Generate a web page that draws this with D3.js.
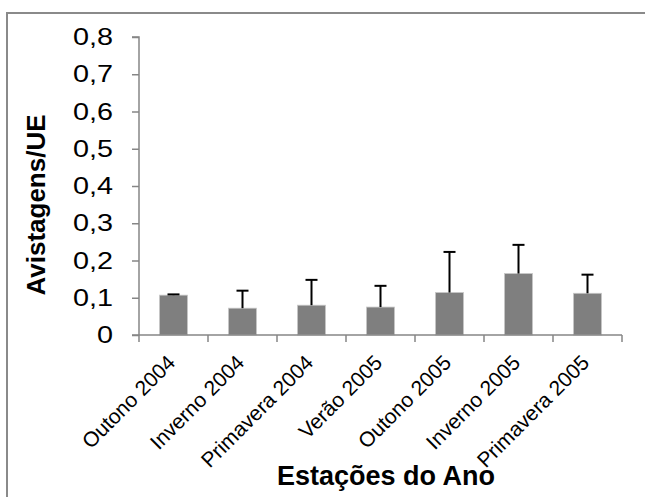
<!DOCTYPE html>
<html>
<head>
<meta charset="utf-8">
<script src="https://cdn.jsdelivr.net/npm/d3@7"></script>
<style>
  html, body { margin: 0; padding: 0; background: #fff; }
  svg { display: block; }
</style>
</head>
<body>
<svg id="chart" width="645" height="497"></svg>
<script>
// Sightings per effort unit by season
const categories = ["Outono 2004", "Inverno 2004", "Primavera 2004", "Verão 2005",
                    "Outono 2005", "Inverno 2005", "Primavera 2005"];
const means  = [0.107, 0.072, 0.080, 0.075, 0.114, 0.165, 0.112];
const errors = [0.002, 0.047, 0.068, 0.057, 0.109, 0.077, 0.050];
const yTicks = [0, 0.1, 0.2, 0.3, 0.4, 0.5, 0.6, 0.7, 0.8];
const yTickLabels = ["0", "0,1", "0,2", "0,3", "0,4", "0,5", "0,6", "0,7", "0,8"];

const svg = d3.select("#chart");
const font = "'Liberation Sans', Arial, sans-serif";
const axisColor = "#868686";

// outer chart frame (runs past the right and bottom edges)
svg.append("rect")
  .attr("x", 7).attr("y", 13)
  .attr("width", 700).attr("height", 600)
  .attr("fill", "none")
  .attr("stroke", "#8a8a8a")
  .attr("stroke-width", 2);

const x = d3.scaleBand()
  .domain(categories)
  .range([139, 622])
  .paddingInner(0.594)
  .paddingOuter(0.297);

const y = d3.scaleLinear()
  .domain([0, 0.8])
  .range([335, 37]);

// bars
svg.append("g").selectAll("rect")
  .data(categories)
  .join("rect")
  .attr("x", d => x(d))
  .attr("width", x.bandwidth())
  .attr("y", (d, i) => y(means[i]))
  .attr("height", (d, i) => y(0) - y(means[i]))
  .attr("fill", "#7f7f7f")
  .attr("stroke", "#c8c8c8")
  .attr("stroke-width", 0.8);

// upper error bars
const eb = svg.append("g").attr("stroke", "#000").attr("stroke-width", 2);
categories.forEach((c, i) => {
  const cx = x(c) + x.bandwidth() / 2;
  const top = y(means[i] + errors[i]);
  eb.append("line").attr("x1", cx).attr("x2", cx)
    .attr("y1", y(means[i])).attr("y2", top);
  eb.append("line").attr("x1", cx - 6).attr("x2", cx + 6)
    .attr("y1", top).attr("y2", top);
});

// y axis
const yAxis = d3.axisLeft(y)
  .tickValues(yTicks)
  .tickFormat((d, i) => yTickLabels[i])
  .tickSize(7)
  .tickPadding(14.7);
const gy = svg.append("g").attr("transform", "translate(139,0)").call(yAxis);
gy.select(".domain").attr("stroke", axisColor).attr("stroke-width", 1.5).attr("d", `M-7,${y(0.8)}H0V${y(0)}`);
gy.selectAll(".tick line").attr("stroke", axisColor).attr("stroke-width", 1.5);
gy.selectAll(".tick text")
  .attr("fill", "#000")
  .attr("transform", "scale(1.2,1)")
  .style("font-family", font)
  .style("font-size", "24px");

// x axis: ticks on category boundaries
const gx = svg.append("g").attr("transform", `translate(0,${y(0)})`);
gx.append("line")
  .attr("x1", 132).attr("x2", 622).attr("y1", 0).attr("y2", 0)
  .attr("stroke", axisColor).attr("stroke-width", 1.5);
const bounds = categories.map(c => x(c) - (x.step() - x.bandwidth()) / 2).concat([622]);
gx.selectAll("line.tk")
  .data(bounds)
  .join("line")
  .attr("class", "tk")
  .attr("x1", d => d).attr("x2", d => d)
  .attr("y1", 0).attr("y2", 7)
  .attr("stroke", axisColor).attr("stroke-width", 1.5);

gx.selectAll("text.cat")
  .data(categories)
  .join("text")
  .attr("class", "cat")
  .attr("text-anchor", "end")
  .attr("transform", d => `translate(${x(d) + x.bandwidth() / 2 + 3},${29}) rotate(-45)`)
  .style("font-family", font)
  .style("font-size", "21px")
  .attr("fill", "#000")
  .text(d => d);

// axis titles
svg.append("text")
  .attr("transform", "translate(45,205) rotate(-90)")
  .attr("text-anchor", "middle")
  .style("font-family", font)
  .style("font-size", "26px")
  .style("font-weight", "bold")
  .attr("fill", "#000")
  .text("Avistagens/UE");

svg.append("text")
  .attr("x", 277).attr("y", 485)
  .attr("text-anchor", "start")
  .style("font-family", font)
  .style("font-size", "27px")
  .style("font-weight", "bold")
  .attr("fill", "#000")
  .text("Estações do Ano");
</script>
</body>
</html>
